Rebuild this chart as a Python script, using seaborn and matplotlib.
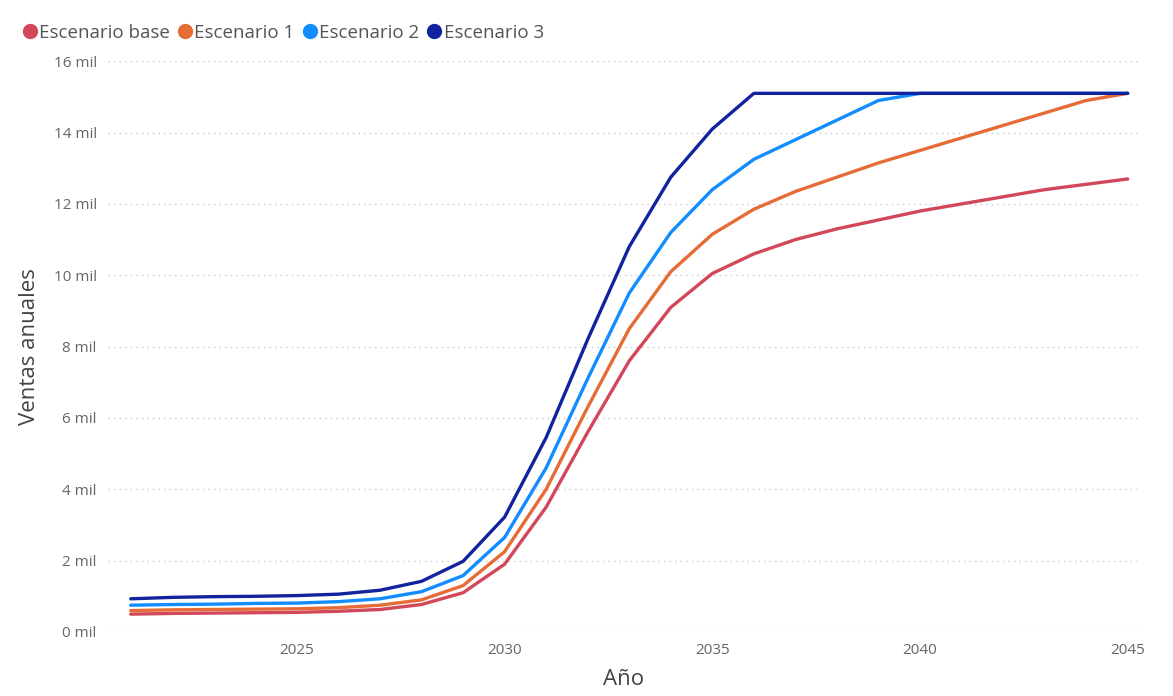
import seaborn as sns
import matplotlib.pyplot as plt
import pandas as pd
from matplotlib.lines import Line2D
from matplotlib.ticker import FuncFormatter

# Datos (miles de ventas)
anios = list(range(2021, 2046))
escenario_base = [0.50, 0.52, 0.53, 0.54, 0.55, 0.58, 0.63, 0.77, 1.10, 1.90, 3.50, 5.60, 7.60, 9.10,
                  10.05, 10.60, 11.00, 11.30, 11.55, 11.80, 12.00, 12.20, 12.40, 12.55, 12.70]
escenario_1 = [0.60, 0.62, 0.63, 0.64, 0.65, 0.68, 0.75, 0.90, 1.30, 2.25, 4.00, 6.30, 8.50, 10.10,
               11.15, 11.85, 12.35, 12.75, 13.15, 13.50, 13.85, 14.20, 14.55, 14.90, 15.10]
escenario_2 = [0.75, 0.77, 0.78, 0.80, 0.81, 0.85, 0.93, 1.13, 1.58, 2.65, 4.60, 7.10, 9.50, 11.20,
               12.40, 13.25, 13.80, 14.35, 14.90, 15.10, 15.10, 15.10, 15.10, 15.10, 15.10]
escenario_3 = [0.93, 0.97, 0.99, 1.00, 1.02, 1.06, 1.17, 1.42, 1.98, 3.22, 5.45, 8.20, 10.80, 12.75,
               14.10, 15.10, 15.10, 15.10, 15.10, 15.10, 15.10, 15.10, 15.10, 15.10, 15.10]

escenarios = ['Escenario base', 'Escenario 1', 'Escenario 2', 'Escenario 3']
colores = ['#D2475A', '#E66C37', '#118DFF', '#12239E']
ticks_x = [2025, 2030, 2035, 2040, 2045]
ticks_y = [0, 2, 4, 6, 8, 10, 12, 14, 16]

df = pd.DataFrame({
    'Año': anios * 4,
    'Ventas': escenario_base + escenario_1 + escenario_2 + escenario_3,
    'Escenario': [e for e in escenarios for _ in anios],
})

sns.set_style("white")
plt.rcParams['font.family'] = ['Open Sans', 'DejaVu Sans']

fig = plt.figure(figsize=(11.73, 6.96), dpi=100)
ax = fig.add_axes([0.092, 0.092, 0.88, 0.82])

sns.lineplot(data=df, x='Año', y='Ventas', hue='Escenario', hue_order=escenarios,
             palette=colores, linewidth=2.4, ax=ax, legend=False)

ax.set_xlim(2020.45, 2045.3)
ax.set_ylim(0, 16)
ax.set_xticks(ticks_x)
ax.set_yticks(ticks_y)
ax.yaxis.set_major_formatter(FuncFormatter(lambda v, p: f'{int(v)} mil'))
ax.tick_params(axis='both', colors='#666666', labelsize=11, length=0, pad=8)
ax.grid(axis='y', linestyle=(0, (1, 3)), color='#C8C8C8', linewidth=1)
for s in ax.spines.values():
    s.set_visible(False)

ax.set_xlabel('Año', fontsize=16, color='#444444', labelpad=8)
ax.set_ylabel('Ventas anuales', fontsize=16, color='#444444', labelpad=10)

handles = [Line2D([0], [0], marker='o', linestyle='', markersize=10,
                  markerfacecolor=c, markeredgecolor=c) for c in colores]
fig.legend(handles, escenarios, loc='upper left', bbox_to_anchor=(0.003, 0.99), ncol=4,
           frameon=False, fontsize=13.5, handletextpad=0.0, columnspacing=0.3,
           labelcolor='#555555', handlelength=1.0)

fig.savefig('out.png', dpi=100)
